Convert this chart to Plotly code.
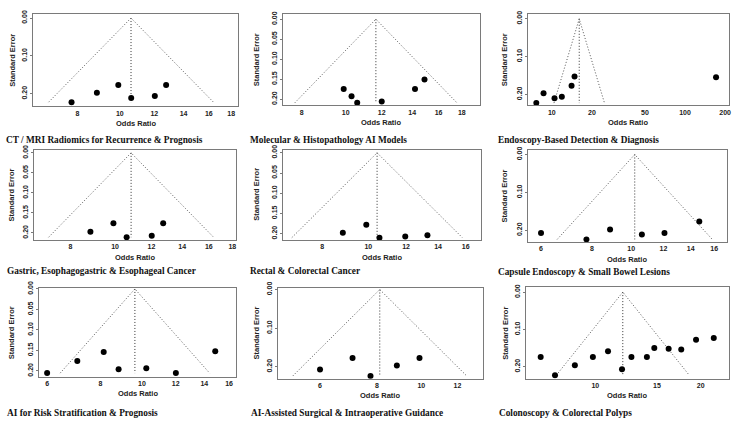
import math
import plotly.graph_objects as go

W, H = 740, 422

# ---------------- data ----------------
captions = [
    "CT / MRI Radiomics for Recurrence & Prognosis",
    "Molecular & Histopathology AI Models",
    "Endoscopy-Based Detection & Diagnosis",
    "Gastric, Esophagogastric & Esophageal Cancer",
    "Rectal & Colorectal Cancer",
    "Capsule Endoscopy & Small Bowel Lesions",
    "AI for Risk Stratification & Prognosis",
    "AI-Assisted Surgical & Intraoperative Guidance",
    "Colonoscopy & Colorectal Polyps",
]

ct_or = [7.75, 8.86, 9.92, 10.62, 12.03, 12.77]
ct_se = [0.222, 0.197, 0.177, 0.211, 0.206, 0.177]
ct_pooled = 10.61

mol_or = [9.9, 10.3, 10.6, 12.0, 14.2, 14.9]
mol_se = [0.175, 0.193, 0.209, 0.206, 0.175, 0.151]
mol_pooled = 11.65

endo_or = [7.64, 8.66, 10.47, 11.88, 14.06, 14.8, 171.0]
endo_se = [0.223, 0.197, 0.210, 0.206, 0.177, 0.153, 0.155]
endo_pooled = 16.05

gas_or = [8.84, 9.92, 10.6, 12.02, 12.73]
gas_se = [0.197, 0.176, 0.211, 0.207, 0.176]
gas_pooled = 10.84

rec_or = [8.84, 9.9, 10.55, 11.95, 13.3]
rec_se = [0.198, 0.178, 0.210, 0.207, 0.204]
rec_pooled = 10.43

cap_or = [6.0, 7.76, 8.87, 10.62, 12.07, 14.7]
cap_se = [0.207, 0.224, 0.198, 0.211, 0.207, 0.177]
cap_pooled = 10.2

risk_or = [6.0, 7.06, 8.14, 8.82, 10.24, 12.01, 14.85]
risk_se = [0.2055, 0.176, 0.154, 0.196, 0.1935, 0.2055, 0.152]
risk_pooled = 9.63

surg_or = [6.0, 7.07, 7.74, 8.84, 9.91]
surg_se = [0.207, 0.177, 0.2236, 0.197, 0.177]
surg_pooled = 8.11

colo_or = [6.98, 7.67, 8.74, 9.84, 10.87, 11.92, 12.68, 14.04, 14.74, 16.2, 17.6, 19.4, 21.8]
colo_se = [0.174, 0.223, 0.196, 0.174, 0.159, 0.207, 0.174, 0.174, 0.150, 0.152, 0.154, 0.128, 0.123]
colo_pooled = 11.98

xticks_a = [8, 10, 12, 14, 16, 18]
xticks_b = [10, 20, 50, 100, 200]
xticks_c = [8, 10, 12, 14, 16]
xticks_d = [6, 8, 10, 12, 14, 16]
xticks_e = [6, 8, 10, 12]
xticks_f = [10, 15, 20]
yticks_10 = [0.0, 0.10, 0.20]
yticks_05 = [0.0, 0.05, 0.10, 0.15, 0.20]

series = [
    (ct_or, ct_se, ct_pooled, xticks_a, yticks_10),
    (mol_or, mol_se, mol_pooled, xticks_a, yticks_05),
    (endo_or, endo_se, endo_pooled, xticks_b, yticks_10),
    (gas_or, gas_se, gas_pooled, xticks_a, yticks_05),
    (rec_or, rec_se, rec_pooled, xticks_c, yticks_05),
    (cap_or, cap_se, cap_pooled, xticks_d, yticks_10),
    (risk_or, risk_se, risk_pooled, xticks_d, yticks_05),
    (surg_or, surg_se, surg_pooled, xticks_e, yticks_10),
    (colo_or, colo_se, colo_pooled, xticks_f, yticks_10),
]

# ---------------- layout (pixel boxes, axis ranges) ----------------
# box = (left, right, top, bottom) in px ; xr = OR range ; yr = SE range (top, bottom)
layout_cfg = [
    dict(box=(33, 239, 7, 101), xr=(6.32, 18.7), yr=(-0.011, 0.233), cap=(4, 135), ytx=11.7),
    dict(box=(284, 481, 7, 100), xr=(7.29, 19.7), yr=(-0.0133, 0.2156), cap=(249, 135), ytx=257.3),
    dict(box=(529, 731, 7, 100), xr=(6.57, 214), yr=(-0.013, 0.229), cap=(497, 135), ytx=506),
    dict(box=(34, 237, 145, 237), xr=(6.66, 18.37), yr=(-0.0082, 0.218), cap=(5, 268), ytx=11.7),
    dict(box=(284, 482, 145, 237), xr=(6.63, 17.2), yr=(-0.008, 0.216), cap=(249, 268), ytx=257.7),
    dict(box=(529, 729, 145, 239), xr=(5.56, 17.2), yr=(-0.013, 0.231), cap=(497, 269), ytx=506),
    dict(box=(39, 237, 286, 376), xr=(5.74, 16.64), yr=(-0.0017, 0.2144), cap=(5, 413), ytx=11.7),
    dict(box=(279, 484, 286, 378), xr=(4.86, 13.63), yr=(-0.0033, 0.231), cap=(250, 413), ytx=256.7),
    dict(box=(527, 731, 285, 378), xr=(6.32, 24.1), yr=(-0.013, 0.2325), cap=(498, 413), ytx=506),
]

LINE = "#7a7a7a"
FUNNEL = "#555555"
SANS = "Liberation Sans, Arial, sans-serif"
SERIF = "Liberation Serif, Times New Roman, serif"

fig = go.Figure()
annotations = []
layout_axes = {}

for i, ((ors, ses, pooled, xt, yt), cfg) in enumerate(zip(series, layout_cfg)):
    k = "" if i == 0 else str(i + 1)
    xa, ya = "x" + k, "y" + k
    semax = max(ses)
    lo = pooled * math.exp(-1.96 * semax)
    hi = pooled * math.exp(1.96 * semax)
    # funnel
    fig.add_trace(go.Scatter(x=[lo, pooled, hi], y=[semax, 0, semax], mode="lines",
                             line=dict(color=FUNNEL, width=1, dash="1px,2px"),
                             xaxis=xa, yaxis=ya, showlegend=False, hoverinfo="skip"))
    fig.add_trace(go.Scatter(x=[pooled, pooled], y=[0, semax], mode="lines",
                             line=dict(color="#333333", width=1, dash="1px,2px"),
                             xaxis=xa, yaxis=ya, showlegend=False, hoverinfo="skip"))
    fig.add_trace(go.Scatter(x=ors, y=ses, mode="markers",
                             marker=dict(color="black", size=6),
                             xaxis=xa, yaxis=ya, showlegend=False))
    L, R, T, B = cfg["box"]
    layout_axes["xaxis" + k] = dict(
        type="log", domain=[L / W, R / W],
        range=[math.log10(cfg["xr"][0]), math.log10(cfg["xr"][1])],
        tickvals=xt, ticktext=[str(v) for v in xt], anchor=ya,
        showline=True, mirror=True, linecolor=LINE, linewidth=1,
        ticks="", showgrid=False, zeroline=False,
        tickfont=dict(family=SANS, size=7, color="#222", weight="bold"),
    )
    layout_axes["yaxis" + k] = dict(
        domain=[1 - B / H, 1 - T / H],
        range=[cfg["yr"][1], cfg["yr"][0]],
        tickvals=yt, tickformat=".2f", tickangle=-90, anchor=xa,
        showline=True, mirror=True, linecolor=LINE, linewidth=1,
        ticks="outside", ticklen=2, tickcolor=LINE, showgrid=False, zeroline=False,
        tickfont=dict(family=SANS, size=7, color="#222", weight="bold"),
    )
    # axis titles
    annotations.append(dict(text="Odds Ratio", x=(L + R) / 2 / W, y=1 - (B + 17.5) / H,
                            xref="paper", yref="paper", showarrow=False,
                            xanchor="center", yanchor="middle",
                            font=dict(family=SANS, size=7.5, color="#222", weight="bold")))
    annotations.append(dict(text="Standard Error", x=cfg["ytx"] / W, y=1 - (T + B) / 2 / H,
                            xref="paper", yref="paper", showarrow=False, textangle=-90,
                            xanchor="center", yanchor="middle",
                            font=dict(family=SANS, size=7.5, color="#222", weight="bold")))
    cx, cy = cfg["cap"]
    annotations.append(dict(text=captions[i], x=cx / W, y=1 - cy / H,
                            xref="paper", yref="paper", showarrow=False,
                            xanchor="left", yanchor="middle",
                            font=dict(family=SERIF, size=9.3, color="#111", weight="bold")))

fig.update_layout(
    width=W, height=H, margin=dict(l=0, r=0, t=0, b=0),
    paper_bgcolor="white", plot_bgcolor="white",
    annotations=annotations, **layout_axes,
)

fig.write_html("out.html")
